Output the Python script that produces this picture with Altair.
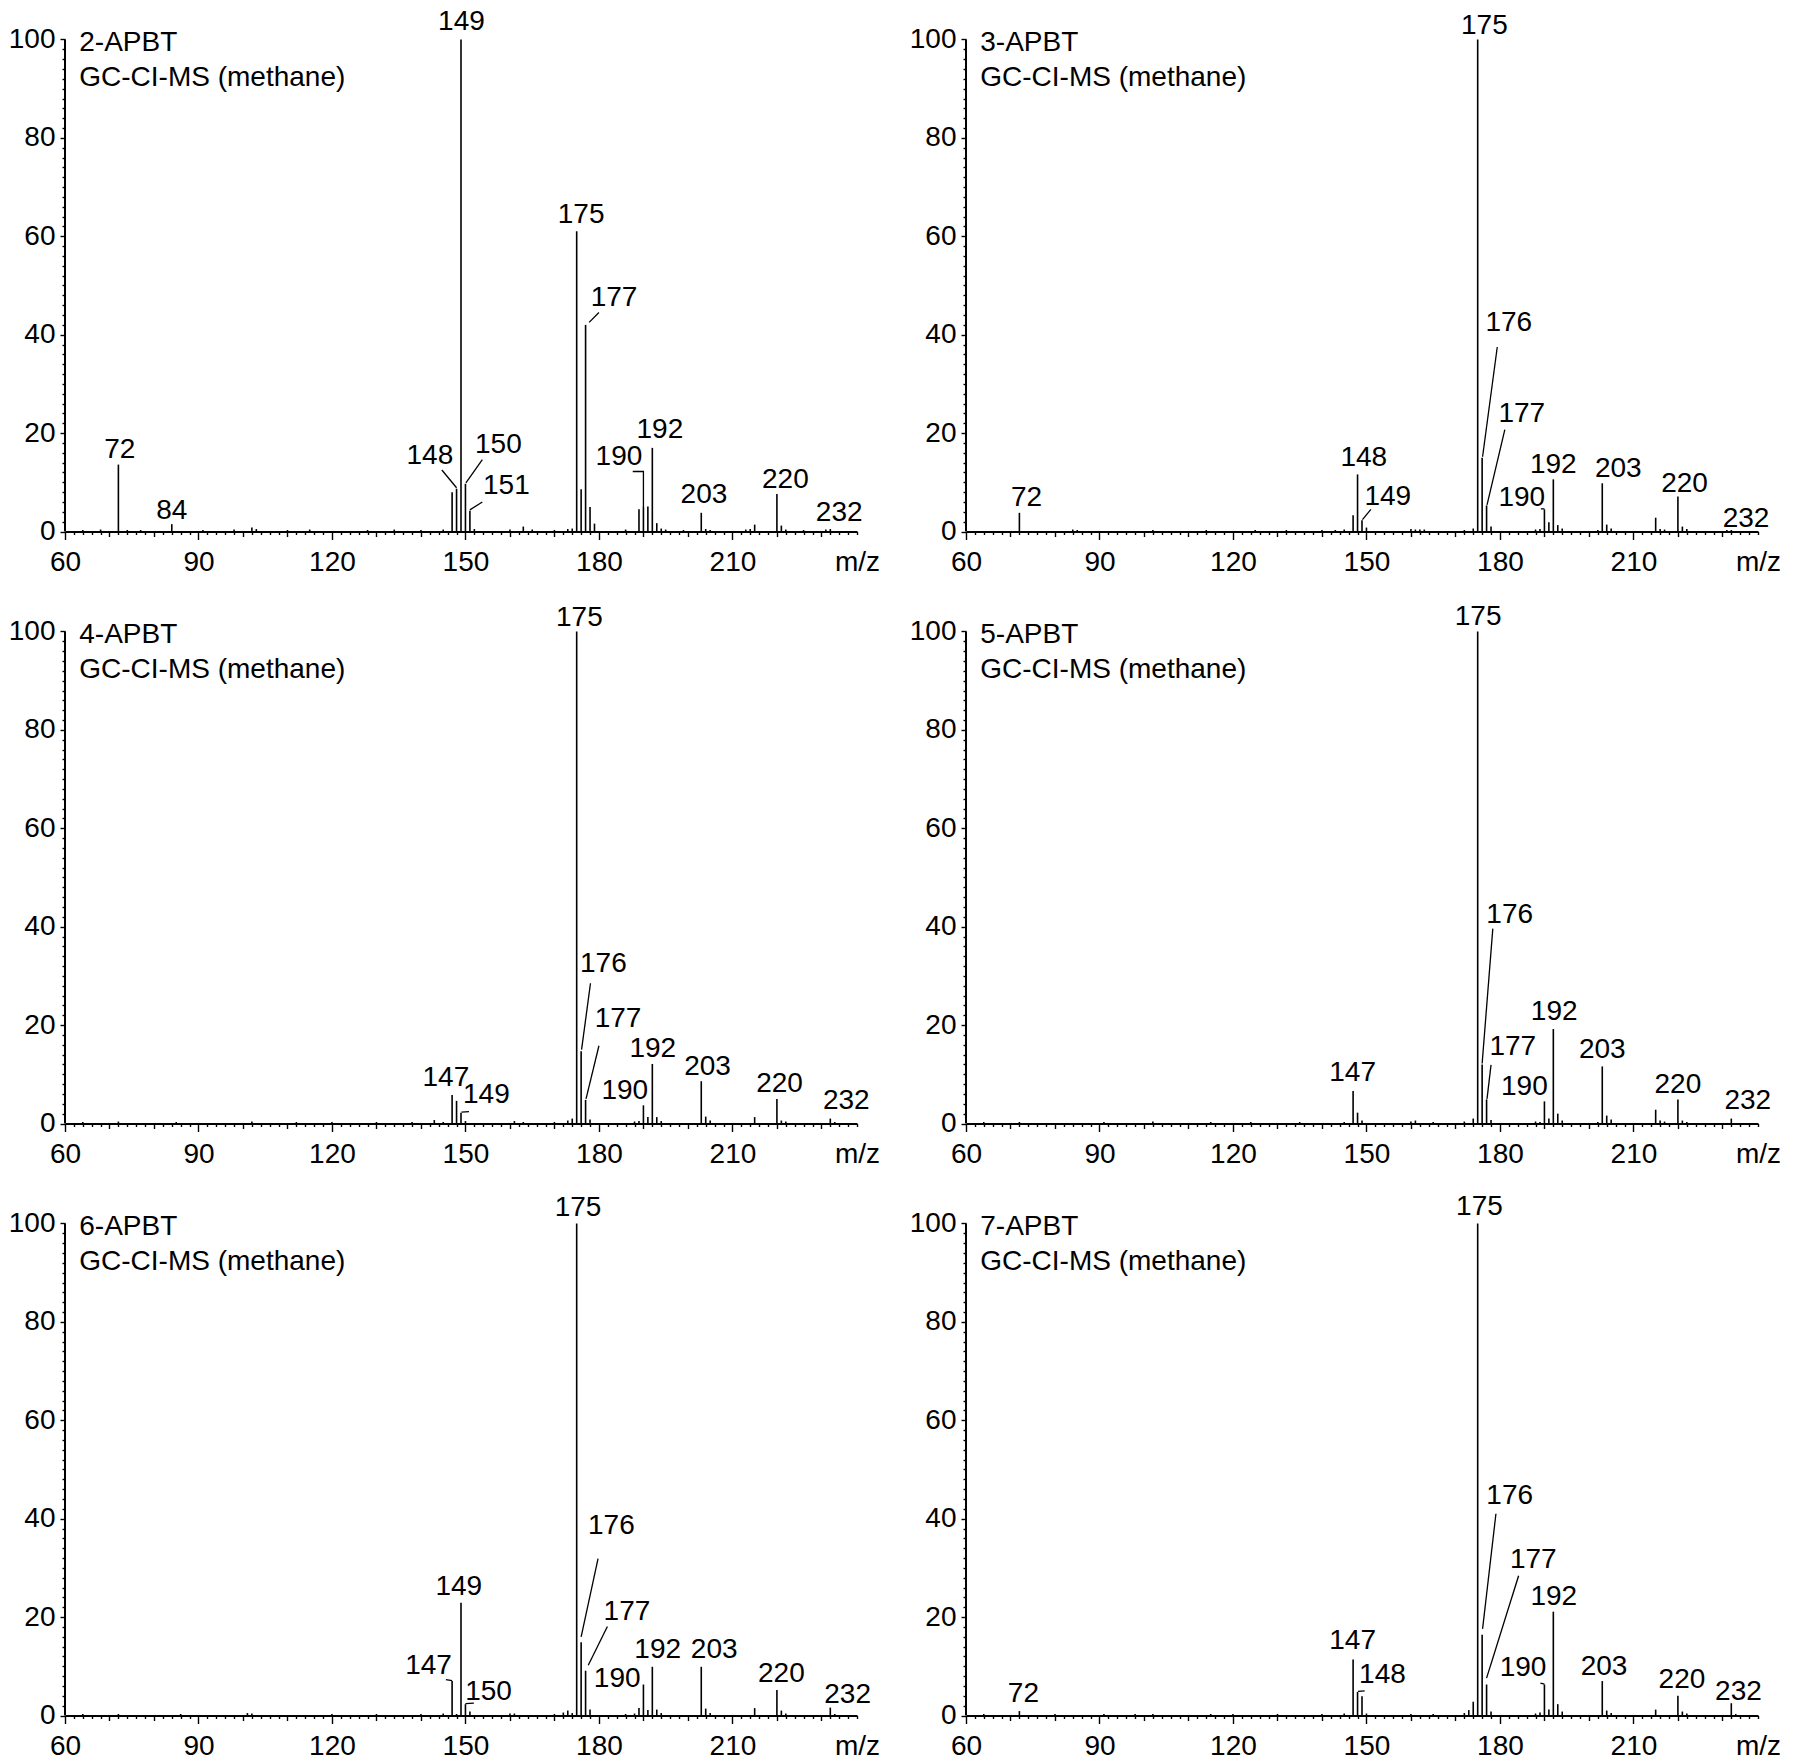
import altair as alt
import pandas as pd

# ---------------- data (m/z, relative intensity %) ----------------
NAMES = ["2-APBT", "3-APBT", "4-APBT", "5-APBT", "6-APBT", "7-APBT"]
SUBTITLE = "GC-CI-MS (methane)"

MZ_2 = [64, 68, 72, 74, 77, 84, 91, 98, 102, 103, 110, 115, 128, 134, 140, 145, 147, 148, 149, 150, 151, 152,
        160, 163, 165, 170, 173, 174, 175, 176, 177, 178, 179, 186, 189, 190, 191, 192, 193, 194, 195, 199,
        203, 204, 205, 213, 214, 215, 220, 221, 222, 226, 231, 232]
INT_2 = [0.3, 0.4, 13.6, 0.3, 0.3, 1.5, 0.3, 0.4, 0.8, 0.5, 0.3, 0.4, 0.3, 0.4, 0.3, 0.4, 8.0, 8.7, 100, 9.7, 4.2, 0.5,
         0.4, 1.0, 0.4, 0.3, 0.5, 0.6, 61, 8.6, 42, 5.0, 1.6, 0.4, 4.5, 5.0, 5.1, 17, 1.7, 0.6, 0.4, 0.3,
         3.8, 0.5, 0.3, 0.4, 0.5, 1.4, 7.6, 1.2, 0.4, 0.3, 0.4, 0.5]

MZ_3 = [72, 84, 85, 102, 114, 125, 132, 140, 143, 145, 147, 148, 149, 150, 160, 161, 162, 163, 172, 174,
        175, 176, 177, 178, 188, 189, 190, 191, 192, 193, 194, 202, 203, 204, 205, 215, 216, 217, 220, 221,
        222, 231, 232]
INT_3 = [3.8, 0.4, 0.3, 0.3, 0.3, 0.3, 0.3, 0.3, 0.3, 0.4, 3.3, 11.6, 2.3, 0.8, 0.5, 0.4, 0.4, 0.4, 0.3, 0.6,
         100, 15.0, 5.3, 1.0, 0.4, 0.5, 4.5, 1.9, 10.6, 1.3, 0.6, 0.3, 9.8, 1.4, 0.6, 2.8, 0.5, 0.4, 7.1, 1.0,
         0.5, 0.3, 0.3]

MZ_4 = [64, 72, 85, 102, 112, 120, 130, 138, 143, 145, 147, 148, 149, 150, 161, 163, 170, 173, 174, 175,
        176, 177, 178, 188, 189, 190, 191, 192, 193, 194, 203, 204, 205, 215, 220, 221, 222, 232, 233]
INT_4 = [0.3, 0.4, 0.3, 0.4, 0.3, 0.3, 0.3, 0.3, 0.7, 0.3, 5.8, 4.6, 2.2, 0.5, 0.5, 0.3, 0.3, 0.6, 1.0, 100,
         14.7, 4.8, 0.8, 0.4, 0.5, 3.7, 1.3, 12.1, 1.3, 0.5, 8.6, 1.4, 0.6, 1.3, 5.0, 0.6, 0.4, 1.0, 0.3]

MZ_5 = [64, 72, 91, 102, 115, 124, 135, 145, 147, 148, 149, 160, 161, 165, 172, 174, 175, 176, 177, 178,
        188, 189, 190, 191, 192, 193, 194, 202, 203, 204, 205, 215, 216, 217, 220, 221, 222, 232]
INT_5 = [0.3, 0.3, 0.3, 0.4, 0.3, 0.3, 0.3, 0.3, 6.6, 2.2, 0.6, 0.4, 0.6, 0.3, 0.4, 1.0, 100, 12.0, 4.9, 0.7,
         0.4, 0.3, 4.5, 1.0, 19.2, 2.0, 0.6, 0.3, 11.6, 1.6, 0.8, 2.8, 0.6, 0.4, 4.9, 0.6, 0.3, 1.0]

MZ_6 = [64, 72, 86, 101, 102, 120, 130, 140, 145, 147, 148, 149, 150, 151, 160, 161, 170, 172, 173, 174,
        175, 176, 177, 178, 186, 188, 189, 190, 191, 192, 193, 194, 203, 204, 205, 215, 220, 221, 222, 232, 233]
INT_6 = [0.3, 0.3, 0.3, 0.5, 0.4, 0.3, 0.3, 0.3, 0.4, 7.0, 0.3, 22.9, 2.3, 0.8, 0.4, 0.4, 0.3, 0.6, 1.0, 0.5,
         100, 14.9, 9.1, 1.2, 0.3, 0.4, 1.5, 6.3, 1.1, 9.9, 1.2, 0.5, 9.9, 1.4, 0.5, 1.5, 5.2, 1.0, 0.4, 1.6, 0.3]

MZ_7 = [64, 72, 80, 91, 98, 102, 115, 120, 130, 140, 145, 147, 148, 149, 150, 160, 165, 172, 173, 174,
        175, 176, 177, 178, 188, 189, 190, 191, 192, 193, 194, 203, 204, 205, 215, 220, 221, 222, 232, 233]
INT_7 = [0.3, 0.9, 0.3, 0.3, 0.3, 0.3, 0.3, 0.3, 0.3, 0.3, 0.4, 11.4, 4.8, 3.9, 0.4, 0.3, 0.3, 0.5, 1.1, 2.8,
         100, 16.4, 6.3, 0.8, 0.4, 0.6, 6.3, 1.2, 21.1, 2.3, 0.8, 7.0, 1.0, 0.5, 1.2, 4.0, 0.8, 0.4, 2.5, 0.3]

SPECTRA = [(MZ_2, INT_2), (MZ_3, INT_3), (MZ_4, INT_4), (MZ_5, INT_5), (MZ_6, INT_6), (MZ_7, INT_7)]

# ---------------- annotation layout (label anchors & leader lines, data units) ----------------
LABELS = [
    [("149", 149.1, 101.9), ("72", 72.3, 15.0), ("84", 84.0, 2.6), ("148", 142.0, 13.8), ("150", 157.4, 15.9),
     ("151", 159.2, 7.6), ("175", 176.0, 62.8), ("177", 183.4, 45.9), ("190", 184.5, 13.5), ("192", 193.7, 19.0),
     ("203", 203.6, 5.8), ("220", 221.9, 8.8), ("232", 234.0, 2.2)],
    [("175", 176.5, 101.1), ("176", 182.0, 40.8), ("177", 184.9, 22.2), ("72", 73.6, 5.1), ("148", 149.4, 13.3),
     ("149", 154.8, 5.4), ("190", 184.9, 5.1), ("192", 192.0, 11.8), ("203", 206.6, 11.0), ("220", 221.5, 8.0),
     ("232", 235.3, 1.0)],
    [("175", 175.6, 101.2), ("176", 181.0, 30.8), ("177", 184.3, 19.6), ("147", 145.6, 7.6), ("149", 154.7, 4.1),
     ("190", 185.8, 5.0), ("192", 192.1, 13.6), ("203", 204.4, 9.9), ("220", 220.6, 6.5), ("232", 235.6, 2.9)],
    [("175", 175.1, 101.3), ("176", 182.2, 40.7), ("177", 182.9, 14.0), ("147", 146.9, 8.6), ("190", 185.5, 5.7),
     ("192", 192.2, 21.0), ("203", 203.0, 13.4), ("220", 220.0, 6.3), ("232", 235.7, 3.0)],
    [("175", 175.3, 101.5), ("176", 182.8, 36.9), ("177", 186.3, 19.5), ("149", 148.5, 24.4), ("147", 141.7, 8.4),
     ("150", 155.2, 3.2), ("190", 184.1, 5.8), ("192", 193.2, 11.7), ("203", 205.9, 11.7), ("220", 221.0, 6.9),
     ("232", 235.9, 2.5)],
    [("175", 175.4, 101.8), ("176", 182.2, 42.9), ("177", 187.5, 29.9), ("192", 192.1, 22.5), ("147", 146.9, 13.5),
     ("148", 153.6, 6.6), ("72", 72.9, 2.8), ("190", 185.2, 8.0), ("203", 203.4, 8.3), ("220", 220.9, 5.5),
     ("232", 233.6, 3.1)],
]

LEADERS = [
    [[(144.7, 12.5), (148.0, 8.9)], [(153.8, 14.6), (150.1, 9.9)], [(153.8, 6.0), (151.0, 4.4)],
     [(180.0, 44.5), (177.8, 42.5)], [(187.6, 12.2), (190.0, 12.2), (190.0, 5.0)]],
    [[(151.0, 4.5), (149.1, 2.4)], [(179.4, 37.5), (176.1, 15.2)], [(181.1, 20.7), (177.1, 5.4)],
     [(189.2, 4.6), (190.0, 4.6)]],
    [[(178.1, 28.5), (176.1, 15.0)], [(180.0, 15.8), (177.1, 5.0)], [(150.8, 2.4), (149.1, 2.3)]],
    [[(178.4, 39.6), (176.0, 12.2)], [(178.0, 11.9), (177.1, 5.0)]],
    [[(179.8, 31.9), (176.0, 16.0)], [(181.9, 18.1), (177.6, 10.2)], [(145.6, 7.3), (147.0, 7.1)],
     [(151.9, 2.5), (150.0, 2.4)]],
    [[(179.1, 41.0), (176.1, 17.6)], [(184.2, 28.4), (177.0, 7.6)], [(149.6, 5.0), (148.1, 4.9)],
     [(189.1, 6.6), (190.0, 6.4)]],
]

TITLE_POS = [(63.2, 97.7), (63.2, 90.5)]

# ---------------- style ----------------
FONT = "Liberation Sans"
FS = 28
XMIN, XMAX = 60, 238
YMAX = 106.4
PW, PH = 792, 523.5
X_TICKS = list(range(60, 239, 2))
Y_TICKS = list(range(0, 101, 2))

x_axis = alt.Axis(
    values=X_TICKS,
    labelExpr="datum.value % 30 === 0 ? datum.label : ''",
    tickSize={"condition": [{"test": "datum.value % 30 === 0", "value": 8},
                            {"test": "datum.value % 10 === 0", "value": 5}], "value": 3},
    tickColor="black", tickWidth=1.4, domainColor="black", domainWidth=2,
    labelFont=FONT, labelFontSize=FS, labelColor="black", labelPadding=9,
    labelFlush=False, labelOverlap=False, grid=False,
    title="m/z", titleX=PW, titleY=17, titleAlign="center", titleBaseline="top", titleAngle=0,
    titleFont=FONT, titleFontSize=FS, titleFontWeight="normal", titleColor="black",
)
y_axis = alt.Axis(
    values=Y_TICKS,
    labelExpr="datum.value % 20 === 0 ? datum.label : ''",
    tickSize={"condition": {"test": "datum.value % 20 === 0", "value": 5}, "value": 3},
    tickColor="black", tickWidth=1.4, domain=False,
    labelFont=FONT, labelFontSize=FS, labelColor="black", labelPadding=5,
    labelOverlap=False, labelFlush=False, grid=False, title="",
)

xs = alt.Scale(domain=[XMIN, XMAX], nice=False, zero=False)
ys = alt.Scale(domain=[0, YMAX], nice=False, zero=True)


def panel(i):
    mz, inten = SPECTRA[i]
    peaks_df = pd.DataFrame({"mz": mz, "inten": inten, "base": [0] * len(mz)})
    lab_df = pd.DataFrame(LABELS[i], columns=["text", "mz", "inten"])
    top_df = lab_df[lab_df["inten"] > 95]
    low_df = lab_df[lab_df["inten"] <= 95]
    rows = []
    for j, pts in enumerate(LEADERS[i]):
        for k, (px, py) in enumerate(pts):
            rows.append({"lid": j, "ord": k, "mz": px, "inten": py})
    lead_df = pd.DataFrame(rows)
    title_df = pd.DataFrame({"text": [NAMES[i], SUBTITLE],
                             "mz": [p[0] for p in TITLE_POS], "inten": [p[1] for p in TITLE_POS]})
    yline_df = pd.DataFrame({"mz": [XMIN], "inten": [0], "top": [100]})

    X = alt.X("mz:Q", scale=xs, axis=x_axis)
    Y = alt.Y("inten:Q", scale=ys, axis=y_axis)

    peaks = alt.Chart(peaks_df).mark_rule(color="black", strokeWidth=1.6).encode(
        x=X, y=Y, y2="base:Q")
    yline = alt.Chart(yline_df).mark_rule(color="black", strokeWidth=2).encode(
        x=X, y=Y, y2="top:Q")
    leaders = alt.Chart(lead_df).mark_line(color="black", strokeWidth=1.3).encode(
        x=X, y=Y, detail="lid:N", order="ord:Q")
    labels_top = alt.Chart(top_df).mark_text(
        font=FONT, fontSize=FS, color="black", align="center", baseline="alphabetic", clip=True
    ).encode(x=X, y=Y, text="text:N")
    labels_low = alt.Chart(low_df).mark_text(
        font=FONT, fontSize=FS, color="black", align="center", baseline="alphabetic"
    ).encode(x=X, y=Y, text="text:N")
    titles = alt.Chart(title_df).mark_text(
        font=FONT, fontSize=FS, color="black", align="left", baseline="alphabetic", clip=True
    ).encode(x=X, y=Y, text="text:N")
    return alt.layer(peaks, yline, leaders, labels_top, labels_low, titles).properties(width=PW, height=PH)


chart = alt.concat(
    *[panel(i) for i in range(6)],
    columns=2,
    spacing={"row": 68, "column": 109},
    bounds="flush",
).properties(
    padding=0, background="white"
).configure_view(stroke=None)

chart.save("out.html", embed_options={"renderer": "svg", "actions": False})
